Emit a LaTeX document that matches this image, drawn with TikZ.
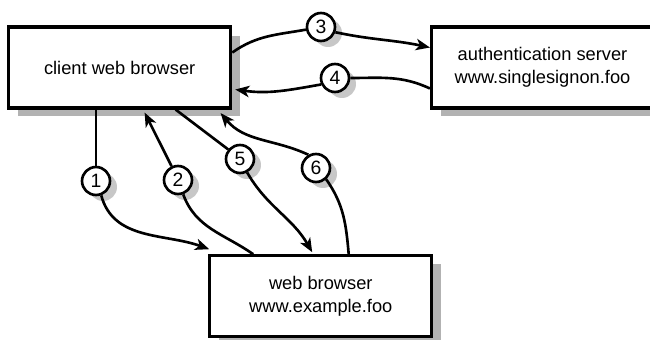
\documentclass[tikz,border=0pt]{standalone}
\usepackage{fontspec}
\setmainfont{Liberation Sans}
\usetikzlibrary{arrows.meta,shadows}

\begin{document}
\begin{tikzpicture}[
  x=0.02cm, y=0.02cm,
  font=\fontsize{10.4}{13.3}\selectfont,
  >={Stealth[length=8pt,width=6.5pt,inset=2.2pt]},
  line width=1.5pt,
  host/.style={rectangle, draw=black, fill=white, line width=1.8pt, minimum width=4.44cm, minimum height=1.62cm, align=center, drop shadow={shadow xshift=0.19cm, shadow yshift=-0.17cm, fill=black!30, opacity=1}},
  num/.style={circle, draw=black, fill=white, line width=1.5pt, inner sep=0pt, minimum size=0.56cm, font=\fontsize{11}{13}\selectfont, drop shadow={shadow xshift=0.14cm, shadow yshift=-0.12cm, fill=black!22, opacity=1}}
]
\useasboundingbox (0,0) rectangle (650,339);

\node[host] (client) at (119.7,271.5) {client web browser};
\node[host] (auth) at (542.5,271.5) {authentication server\\www.singlesignon.foo};
\node[host] (web) at (320.8,42.7) {web browser\\www.example.foo};

\node[num] (n1) at (96,158) {1};
\node[num] (n2) at (178,159) {2};
\node[num] (n3) at (321,312) {3};
\node[num] (n4) at (335,261) {4};
\node[num] (n5) at (240,180) {5};
\node[num] (n6) at (316,171) {6};

% client <-> web
\draw (n1 |- client.south) -- (n1.north);
\draw[->] (n1.-70) to[out=-75,in=160] ([xshift=0.02cm,yshift=0.1cm]web.north west);
\draw ([xshift=0.9cm]web.north west) to[out=145,in=-70] (n2.-70);
\draw[->] (n2.115) -- ([xshift=2.75cm,yshift=-0.06cm]client.south west);
\draw ([xshift=3.37cm]client.south west) -- (n5.141);
\draw[->] (n5.-62) to[out=-60,in=120] ([xshift=2.08cm,yshift=0.04cm]web.north west);
\draw ([xshift=2.81cm]web.north west) to[out=95,in=-55] (n6.-48);
\draw[->] (n6.120) to[out=155,in=-50] ([xshift=4.27cm,yshift=-0.07cm]client.south west);

% client <-> auth
\draw ([yshift=0.3cm]client.east) to[out=35,in=190] (n3.190);
\draw[->] (n3.-20) to[out=-12,in=168] ([yshift=0.4cm]auth.west);
\draw ([yshift=-0.42cm]auth.west) to[out=155,in=0] (n4.east);
\draw[->] (n4.205) to[out=190,in=-8] ([xshift=0.06cm,yshift=-0.44cm]client.east);

\end{tikzpicture}
\end{document}
